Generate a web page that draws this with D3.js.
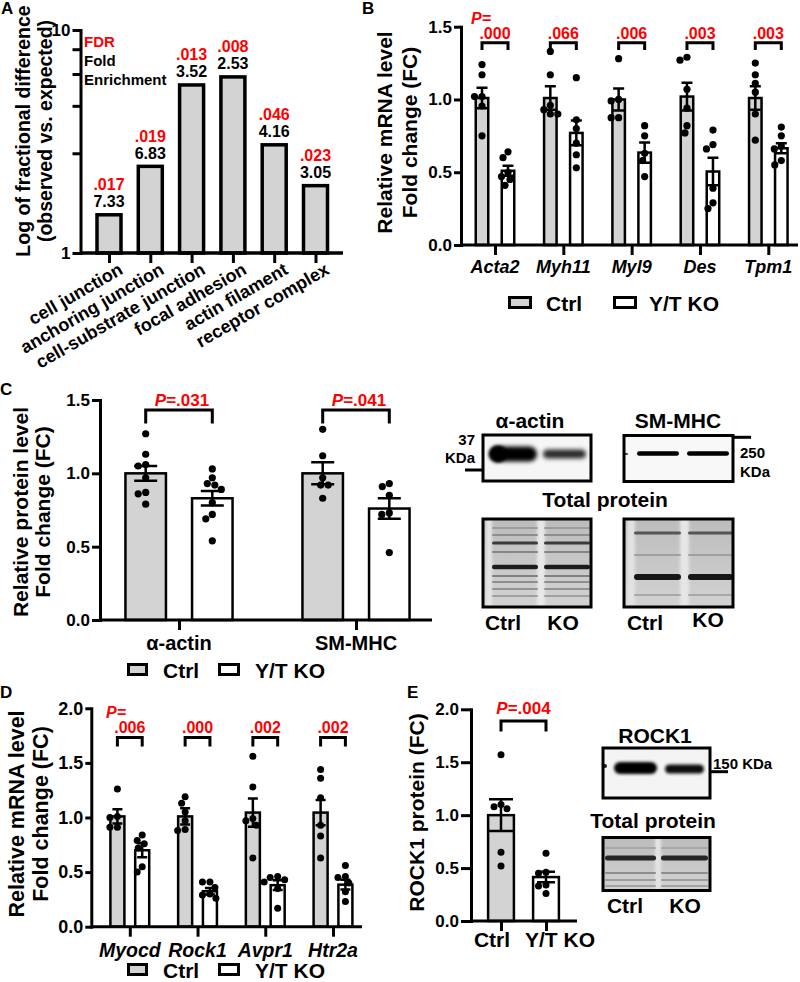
<!DOCTYPE html>
<html>
<head>
<meta charset="utf-8">
<script src="https://d3js.org/d3.v7.min.js"></script>
<style>
  body { margin: 0; background: #fff; }
  svg text { font-family: "Liberation Sans", Arial, Helvetica, sans-serif; font-weight: bold; }
</style>
</head>
<body>
<svg id="fig" width="800" height="982"></svg>
<script>
// ---------------- data ----------------
const groupNames = ["Ctrl", "Y/T KO"];

// A: GO cellular component enrichment (log axis)
const aTerms = ["cell junction", "anchoring junction", "cell-substrate junction", "focal adhesion", "actin filament", "receptor complex"];
const aValues = [1.51, 2.49, 5.77, 6.27, 3.11, 2.04];
const aFDR = [".017", ".019", ".013", ".008", ".046", ".023"];
const aFold = ["7.33", "6.83", "3.52", "2.53", "4.16", "3.05"];
const aMinorTicks = [2.8, 4.57, 6.35, 8.2];

// B: contractile gene mRNA
const bGenes = ["Acta2", "Myh11", "Myl9", "Des", "Tpm1"];
const bCtrlMean = [1.01, 1.01, 1.0, 1.02, 1.01];
const bCtrlSem = [0.07, 0.08, 0.075, 0.095, 0.08];
const bKoMean = [0.51, 0.77, 0.635, 0.505, 0.665];
const bKoSem = [0.035, 0.085, 0.07, 0.095, 0.035];
const bCtrlPts = [[1.24, 1.17, 1.02, 1.02, 0.955, 0.75], [1.33, 1.17, 0.96, 0.93, 0.9, 0.9], [1.28, 1.0, 0.99, 0.875, 0.875], [1.29, 1.27, 1.07, 0.94, 0.82, 0.77], [1.25, 1.17, 1.11, 1.05, 0.9, 0.72]];
const bKoPts = [[0.64, 0.6, 0.5, 0.47, 0.45, 0.41], [1.15, 0.86, 0.8, 0.7, 0.62, 0.53], [0.82, 0.75, 0.63, 0.58, 0.47], [0.79, 0.69, 0.66, 0.39, 0.29, 0.25], [0.81, 0.75, 0.68, 0.66, 0.58, 0.55]];
const bP = [".000", ".066", ".006", ".003", ".003"];

// C: protein level
const cProteins = ["α-actin", "SM-MHC"];
const cCtrlMean = [1.0, 1.0];
const cCtrlSem = [0.05, 0.075];
const cKoMean = [0.83, 0.76];
const cKoSem = [0.05, 0.07];
const cCtrlPts = [[1.27, 1.13, 1.06, 1.05, 0.97, 0.87, 0.86, 0.79], [1.3, 1.12, 0.97, 0.92, 0.92, 0.83]];
const cKoPts = [[1.03, 0.97, 0.93, 0.92, 0.89, 0.8, 0.72, 0.69, 0.54], [0.93, 0.91, 0.85, 0.73, 0.72, 0.46]];
const cP = [".031", ".041"];

// D: regulator mRNA
const dGenes = ["Myocd", "Rock1", "Avpr1", "Htr2a"];
const dCtrlMean = [1.01, 1.01, 1.045, 1.045];
const dCtrlSem = [0.065, 0.075, 0.13, 0.115];
const dKoMean = [0.7, 0.325, 0.38, 0.385];
const dKoSem = [0.065, 0.03, 0.045, 0.045];
const dCtrlPts = [[1.26, 1.01, 1.0, 0.91, 0.91], [1.19, 1.13, 1.05, 0.97, 0.89, 0.88], [1.56, 1.28, 0.99, 0.97, 0.93, 0.63], [1.44, 1.36, 1.18, 0.93, 0.83, 0.63]];
const dKoPts = [[0.84, 0.79, 0.76, 0.72, 0.55, 0.5], [0.41, 0.41, 0.36, 0.3, 0.29, 0.26], [0.46, 0.45, 0.43, 0.41, 0.35, 0.17], [0.56, 0.46, 0.45, 0.4, 0.32, 0.23]];
const dP = [".006", ".000", ".002", ".002"];

// E: ROCK1 protein
const eMean = [1.0, 0.415];
const eSem = [0.15, 0.05];
const ePts = [[1.57, 1.1, 1.08, 1.06, 0.65, 0.52], [0.64, 0.46, 0.45, 0.34, 0.33, 0.26]];
const eP = ".004";

// ---------------- drawing ----------------
const RED = "#ff0000";
const GRAY = "#d3d3d3";
const svg = d3.select("#fig");
const defs = svg.append("defs");

[["b1", 0.7], ["b2", 1.4], ["b3", 2.2]].forEach(([id, s]) => {
  defs.append("filter").attr("id", id)
    .attr("x", "-50%").attr("y", "-200%").attr("width", "200%").attr("height", "500%")
    .append("feGaussianBlur").attr("stdDeviation", s);
});
const grad = defs.append("linearGradient").attr("id", "tp").attr("x1", 0).attr("y1", 0).attr("x2", 0).attr("y2", 1);
grad.append("stop").attr("offset", "0%").attr("stop-color", "#bcbcbc");
grad.append("stop").attr("offset", "100%").attr("stop-color", "#d2d2d2");

function text(g, x, y, s, size, o = {}) {
  const t = g.append("text").attr("x", x).attr("y", y).attr("font-size", size).text(s);
  if (o.anchor) t.attr("text-anchor", o.anchor);
  if (o.fill) t.attr("fill", o.fill);
  if (o.italic) t.attr("font-style", "italic");
  return t;
}

function yTitle(g, xs, yc, lines, size) {
  lines.forEach((l, i) => {
    g.append("text").attr("transform", `translate(${xs[i]},${yc}) rotate(-90)`)
      .attr("text-anchor", "middle").attr("font-size", size).text(l);
  });
}

function styleAxis(sel, size) {
  sel.attr("font-size", size).attr("font-family", null);
  sel.select(".domain").attr("stroke-width", 3).attr("stroke-linecap", "square");
  sel.selectAll(".tick line").attr("stroke-width", 3);
  sel.selectAll(".tick text").attr("fill", "#000");
}

// simple deterministic beeswarm: nudge a dot sideways until it clears the others
function swarm(vals, cx, y, r) {
  const placed = [];
  return vals.map(v => {
    const py = y(v);
    let dx = 0;
    for (let k = 0; k < 60; k++) {
      const cands = k === 0 ? [0] : [-k * 0.5, k * 0.5];
      const ok = cands.find(c => placed.every(p => Math.hypot(p.x - (cx + c), p.y - py) >= 2 * r + 0.3));
      if (ok !== undefined) { dx = ok; break; }
    }
    const p = {x: cx + dx, y: py};
    placed.push(p);
    return p;
  });
}

function errBar(g, cx, y, m, s, capW) {
  g.append("path")
    .attr("d", `M${cx},${y(m - s)}V${y(m + s)}M${cx - capW / 2},${y(m + s)}H${cx + capW / 2}M${cx - capW / 2},${y(m - s)}H${cx + capW / 2}`)
    .attr("fill", "none").attr("stroke", "#000").attr("stroke-width", 2.5);
}

function dots(g, cx, y, vals, r) {
  g.append("g").selectAll("circle").data(swarm(vals, cx, y, r)).join("circle")
    .attr("cx", d => d.x).attr("cy", d => d.y).attr("r", r).attr("fill", "#000");
}

function legend(g, y, items, fs) {
  items.forEach(it => {
    g.append("rect").attr("x", it.x).attr("y", y).attr("width", it.w).attr("height", 10)
      .attr("fill", it.fill).attr("stroke", "#000").attr("stroke-width", 3);
    text(g, it.tx, y + 13, it.label, fs);
  });
}

function grouped(cfg) {
  const g = svg.append("g");
  const y = d3.scaleLinear().domain([0, cfg.yMax]).range(cfg.yRange);
  const x = d3.scalePoint().domain(cfg.cats).range(cfg.centers);
  const series = [
    {mean: cfg.ctrlMean, sem: cfg.ctrlSem, pts: cfg.ctrlPts, fill: GRAY, dx: -cfg.off},
    {mean: cfg.koMean, sem: cfg.koSem, pts: cfg.koPts, fill: "#fff", dx: cfg.off}
  ];
  series.forEach(s => {
    g.append("g").selectAll("rect").data(cfg.cats).join("rect")
      .attr("x", d => x(d) + s.dx - cfg.barW / 2).attr("width", cfg.barW)
      .attr("y", (d, i) => y(s.mean[i])).attr("height", (d, i) => y(0) - y(s.mean[i]))
      .attr("fill", s.fill).attr("stroke", "#000").attr("stroke-width", 2.5);
  });
  series.forEach(s => cfg.cats.forEach((c, i) => {
    errBar(g, x(c) + s.dx, y, s.mean[i], s.sem[i], cfg.capW);
    dots(g, x(c) + s.dx, y, s.pts[i], cfg.r);
  }));
  cfg.cats.forEach((c, i) => {
    const x1 = x(c) - cfg.off, x2 = x(c) + cfg.off;
    const yt = y(cfg.bracket[0]), ye = y(cfg.bracket[1]);
    g.append("path").attr("d", `M${x1},${ye}V${yt}H${x2}V${ye}`)
      .attr("fill", "none").attr("stroke", "#000").attr("stroke-width", 3);
    const t = g.append("text").attr("x", x(c) + (cfg.pShift || 0)).attr("y", yt - 4)
      .attr("text-anchor", "middle").attr("fill", RED).attr("font-size", cfg.pSize);
    if (cfg.pInline) {
      t.append("tspan").attr("font-style", "italic").text("P");
      t.append("tspan").text("=" + cfg.p[i]);
    } else t.text(cfg.p[i]);
  });
  const ya = g.append("g").attr("transform", `translate(${cfg.x0},0)`)
    .call(d3.axisLeft(y).tickValues(cfg.yTicks).tickFormat(d3.format(".1f"))
      .tickSize(cfg.yTickLen).tickSizeOuter(0).tickPadding(2));
  styleAxis(ya, cfg.tickFs);
  g.append("line").attr("x1", cfg.x0).attr("x2", cfg.xEnd).attr("y1", y(0)).attr("y2", y(0))
    .attr("stroke", "#000").attr("stroke-width", 3);
  const xa = g.append("g").attr("transform", `translate(0,${y(0)})`)
    .call(d3.axisBottom(x).tickSize(10).tickSizeOuter(0).tickFormat(""));
  xa.select(".domain").remove();
  xa.selectAll(".tick line").attr("stroke-width", 3);
  g.append("g").selectAll("text").data(cfg.cats).join("text")
    .attr("x", d => x(d)).attr("y", cfg.catY).attr("text-anchor", "middle")
    .attr("font-size", cfg.catFs).attr("font-style", cfg.italic ? "italic" : null).text(d => d);
  return {g, x, y};
}

// ---------- Panel A ----------
const gA = svg.append("g");
text(gA, 1, 14, "A", 17);
const aY = d3.scaleLog().domain([1, 10]).range([253, 30]);
const aX = d3.scalePoint().domain(aTerms).range([109, 315.5]);
gA.append("g").selectAll("rect").data(aTerms).join("rect")
  .attr("x", d => aX(d) - 12).attr("width", 24)
  .attr("y", (d, i) => aY(aValues[i]) + 1.7).attr("height", (d, i) => aY(1) - aY(aValues[i]) - 1.7)
  .attr("fill", GRAY).attr("stroke", "#000").attr("stroke-width", 3.5);
gA.append("g").selectAll("text").data(aTerms).join("text")
  .attr("x", d => aX(d)).attr("y", (d, i) => aY(aValues[i]) - 23).attr("text-anchor", "middle")
  .attr("font-size", 16).attr("fill", RED).text((d, i) => aFDR[i]);
gA.append("g").selectAll("text").data(aTerms).join("text")
  .attr("x", d => aX(d)).attr("y", (d, i) => aY(aValues[i]) - 6).attr("text-anchor", "middle")
  .attr("font-size", 16).text((d, i) => aFold[i]);
text(gA, 84, 47, "FDR", 15, {fill: RED});
text(gA, 84, 66, "Fold", 15);
text(gA, 84, 85, "Enrichment", 15);
const aAxis = gA.append("g").attr("transform", "translate(80.5,0)")
  .call(d3.axisLeft(aY).tickValues([1, 10]).tickFormat(d3.format("d")).tickSize(8).tickSizeOuter(0).tickPadding(2));
styleAxis(aAxis, 17);
const aMinor = gA.append("g").attr("transform", "translate(80.5,0)")
  .call(d3.axisLeft(aY).tickValues(aMinorTicks).tickFormat("").tickSize(8).tickSizeOuter(0));
aMinor.select(".domain").remove();
aMinor.selectAll(".tick line").attr("stroke-width", 3);
gA.append("line").attr("x1", 80.5).attr("x2", 343).attr("y1", aY(1)).attr("y2", aY(1))
  .attr("stroke", "#000").attr("stroke-width", 3.5);
const aXAxis = gA.append("g").attr("transform", `translate(0,${aY(1)})`)
  .call(d3.axisBottom(aX).tickSize(10).tickSizeOuter(0).tickFormat(""));
aXAxis.select(".domain").remove();
aXAxis.selectAll(".tick line").attr("stroke-width", 3);
gA.append("g").selectAll("text").data(aTerms).join("text")
  .attr("transform", d => `translate(${aX(d) + 15},273) rotate(-30)`)
  .attr("text-anchor", "end").attr("font-size", 18).text(d => d);
yTitle(gA, [30, 52], 131, ["Log of fractional difference", "(observed vs. expected)"], 19.5);

// ---------- Panel B ----------
const B = grouped({
  cats: bGenes, ctrlMean: bCtrlMean, ctrlSem: bCtrlSem, ctrlPts: bCtrlPts,
  koMean: bKoMean, koSem: bKoSem, koPts: bKoPts, p: bP,
  x0: 461, xEnd: 798, yMax: 1.5, yRange: [245, 26.7], yTicks: [0, 0.5, 1, 1.5],
  centers: [495, 768.3], off: 13, barW: 12.5, capW: 11, r: 3.6,
  bracket: [1.39, 1.34], pSize: 16, tickFs: 17, yTickLen: 7,
  catY: 273, catFs: 18, italic: true
});
text(B.g, 362, 14, "B", 17);
text(B.g, 471, 24, "P=", 16, {fill: RED, italic: true});
yTitle(B.g, [392, 417], 132.5, ["Relative mRNA level", "Fold change (FC)"], 21);
legend(B.g, 297.5, [
  {x: 509.5, w: 21, fill: GRAY, tx: 546, label: groupNames[0]},
  {x: 614.5, w: 21, fill: "#fff", tx: 649, label: groupNames[1]}
], 21);

// ---------- Panel C ----------
const C = grouped({
  cats: cProteins, ctrlMean: cCtrlMean, ctrlSem: cCtrlSem, ctrlPts: cCtrlPts,
  koMean: cKoMean, koSem: cKoSem, koPts: cKoPts, p: cP, pInline: true, pShift: 3,
  x0: 100, xEnd: 432, yMax: 1.5, yRange: [620, 400], yTicks: [0, 0.5, 1, 1.5],
  centers: [179, 356], off: 33.3, barW: 40.5, capW: 23, r: 3.6,
  bracket: [1.432, 1.34], pSize: 17, tickFs: 17, yTickLen: 8,
  catY: 650, catFs: 20, italic: false
});
text(C.g, 0, 395, "C", 17);
yTitle(C.g, [28, 50], 512, ["Relative protein level", "Fold change (FC)"], 21);
legend(C.g, 664.5, [
  {x: 128.5, w: 18, fill: GRAY, tx: 163, label: groupNames[0]},
  {x: 219.5, w: 19, fill: "#fff", tx: 255, label: groupNames[1]}
], 21);

// ---------- Panel D ----------
const D = grouped({
  cats: dGenes, ctrlMean: dCtrlMean, ctrlSem: dCtrlSem, ctrlPts: dCtrlPts,
  koMean: dKoMean, koSem: dKoSem, koPts: dKoPts, p: dP,
  x0: 91.3, xEnd: 362, yMax: 2, yRange: [926.7, 708.3], yTicks: [0, 0.5, 1, 1.5, 2],
  centers: [129.8, 333], off: 12.4, barW: 14, capW: 10, r: 3.5,
  bracket: [1.733, 1.65], pSize: 16, tickFs: 18, yTickLen: 6,
  catY: 957, catFs: 19.5, italic: true
});
text(D.g, 0, 698, "D", 17);
text(D.g, 106, 718, "P=", 16, {fill: RED, italic: true});
yTitle(D.g, [24, 48], 814, ["Relative mRNA level", "Fold change (FC)"], 21.5);
legend(D.g, 964.5, [
  {x: 128.5, w: 18, fill: GRAY, tx: 163, label: groupNames[0]},
  {x: 219.5, w: 19, fill: "#fff", tx: 255, label: groupNames[1]}
], 21);

// ---------- Panel E ----------
const gE = svg.append("g");
text(gE, 407, 698, "E", 17);
const eY = d3.scaleLinear().domain([0, 2]).range([921, 709.3]);
const eX = d3.scalePoint().domain(groupNames).range([501, 546]);
const eFill = [GRAY, "#fff"];
const eCap = [24, 18];
const eLabelDx = [-9, 14];
gE.append("g").selectAll("rect").data(groupNames).join("rect")
  .attr("x", d => eX(d) - 12.9).attr("width", 25.8)
  .attr("y", (d, i) => eY(eMean[i])).attr("height", (d, i) => eY(0) - eY(eMean[i]))
  .attr("fill", (d, i) => eFill[i]).attr("stroke", "#000").attr("stroke-width", 2.5);
groupNames.forEach((n, i) => {
  errBar(gE, eX(n), eY, eMean[i], eSem[i], eCap[i]);
  dots(gE, eX(n), eY, ePts[i], 3.5);
});
gE.append("path").attr("d", `M${eX(groupNames[0])},${eY(1.79)}V${eY(1.89)}H${eX(groupNames[1])}V${eY(1.79)}`)
  .attr("fill", "none").attr("stroke", "#000").attr("stroke-width", 3);
const eT = gE.append("text").attr("x", (eX(groupNames[0]) + eX(groupNames[1])) / 2).attr("y", eY(1.89) - 6.5)
  .attr("text-anchor", "middle").attr("fill", RED).attr("font-size", 17);
eT.append("tspan").attr("font-style", "italic").text("P");
eT.append("tspan").text("=" + eP);
const eAxis = gE.append("g").attr("transform", "translate(471,0)")
  .call(d3.axisLeft(eY).tickValues([0, 0.5, 1, 1.5, 2]).tickFormat(d3.format(".1f")).tickSize(10).tickSizeOuter(0).tickPadding(2));
styleAxis(eAxis, 17);
gE.append("line").attr("x1", 471).attr("x2", 577).attr("y1", eY(0)).attr("y2", eY(0))
  .attr("stroke", "#000").attr("stroke-width", 3);
const eXAxis = gE.append("g").attr("transform", `translate(0,${eY(0)})`)
  .call(d3.axisBottom(eX).tickSize(10).tickSizeOuter(0).tickFormat(""));
eXAxis.select(".domain").remove();
eXAxis.selectAll(".tick line").attr("stroke-width", 3);
gE.append("g").selectAll("text").data(groupNames).join("text")
  .attr("x", (d, i) => eX(d) + eLabelDx[i]).attr("y", 947).attr("text-anchor", "middle")
  .attr("font-size", 21).text(d => d);
yTitle(gE, [424], 812.5, ["ROCK1 protein (FC)"], 21);

// ---------- blot images ----------
let clipN = 0;
function blot(x, y, w, h, bg, paint) {
  const id = "clip" + (clipN++);
  defs.append("clipPath").attr("id", id).append("rect").attr("x", x).attr("y", y).attr("width", w).attr("height", h);
  const g = svg.append("g");
  const inner = g.append("g").attr("clip-path", `url(#${id})`);
  inner.append("rect").attr("x", x).attr("y", y).attr("width", w).attr("height", h).attr("fill", bg);
  paint(inner);
  g.append("rect").attr("x", x).attr("y", y).attr("width", w).attr("height", h)
    .attr("fill", "none").attr("stroke", "#000").attr("stroke-width", 3);
}
function band(g, x1, x2, cy, h, color, f) {
  g.append("rect").attr("x", x1).attr("y", cy - h / 2).attr("width", x2 - x1).attr("height", h)
    .attr("rx", h / 2).attr("fill", color).attr("filter", `url(#${f})`);
}
function stripe(g, x, w, y, h, color) {
  g.append("rect").attr("x", x).attr("y", y - 5).attr("width", w).attr("height", h + 10)
    .attr("fill", color).attr("filter", "url(#b2)");
}
function marker(x1, x2, y) {
  svg.append("line").attr("x1", x1).attr("x2", x2).attr("y1", y).attr("y2", y)
    .attr("stroke", "#000").attr("stroke-width", 3);
}
const gBlot = svg.append("g");

// C blots
text(gBlot, 530, 428, "α-actin", 21, {anchor: "middle"});
text(gBlot, 678, 428, "SM-MHC", 21, {anchor: "middle"});
blot(483, 435, 108, 46, "#f6f6f6", g => {
  band(g, 490, 537, 454, 15, "#000", "b3");
  g.append("ellipse").attr("cx", 498).attr("cy", 454).attr("rx", 9).attr("ry", 8.5).attr("fill", "#000").attr("filter", "url(#b2)");
  band(g, 543, 586, 454, 9, "#2a2a2a", "b3");
});
blot(624, 435.5, 109, 46, "#f8f8f8", g => {
  band(g, 637, 679, 453.5, 4.5, "#000", "b1");
  band(g, 687, 729, 453.5, 4.5, "#000", "b1");
  band(g, 624, 628, 454, 2, "#444", "b1");
});
text(gBlot, 475, 445, "37", 15, {anchor: "end"});
text(gBlot, 475, 463, "KDa", 15, {anchor: "end"});
marker(465, 483, 470);
text(gBlot, 740, 458, "250", 15);
text(gBlot, 740, 477, "KDa", 15);
marker(733, 751, 437.3);
text(gBlot, 605, 507, "Total protein", 21, {anchor: "middle"});
blot(483, 519, 108, 88, "url(#tp)", g => {
  stripe(g, 486, 6, 519, 88, "#e4e4e4");
  stripe(g, 537, 8, 519, 88, "#e8e8e8");
  [[528, 2, "#9c9c9c"], [535, 2, "#8e8e8e"], [543, 3, "#3a3a3a"], [552, 2, "#858585"], [567, 4.5, "#1a1a1a"],
   [576, 2, "#808080"], [582, 2, "#8e8e8e"], [589, 2, "#939393"], [596, 2, "#a0a0a0"]].forEach(([cy, h, c]) => {
    band(g, 492, 538, cy, h, c, "b1");
    band(g, 544, 590, cy, h, c, "b1");
  });
});
blot(624, 519, 109, 88, "url(#tp)", g => {
  stripe(g, 627, 8, 519, 88, "#e2e2e2");
  stripe(g, 680, 9, 519, 88, "#e6e6e6");
  [[533, 3, "#555"], [555, 2, "#a0a0a0"], [577, 6, "#141414"], [595, 2, "#a8a8a8"]].forEach(([cy, h, c]) => {
    band(g, 634, 681, cy, h, c, "b1");
    band(g, 688, 733, cy, h, c, "b1");
  });
});
text(gBlot, 503, 630, "Ctrl", 21, {anchor: "middle"});
text(gBlot, 563, 630, "KO", 21, {anchor: "middle"});
text(gBlot, 645, 630, "Ctrl", 21, {anchor: "middle"});
text(gBlot, 708, 627, "KO", 21, {anchor: "middle"});

// E blots
text(gBlot, 655, 743, "ROCK1", 21, {anchor: "middle"});
blot(603, 748, 107, 50, "#f4f4f4", g => {
  band(g, 614, 657, 768, 12, "#000", "b2");
  band(g, 665, 704, 769, 9, "#111", "b2");
  band(g, 602, 607, 766, 4, "#222", "b1");
});
text(gBlot, 713, 769, "150 KDa", 15);
marker(710, 728, 771.7);
text(gBlot, 653, 828, "Total protein", 21, {anchor: "middle"});
blot(603, 837.5, 107, 53, "url(#tp)", g => {
  stripe(g, 655, 6, 837.5, 53, "#e4e4e4");
  [[848, 2, "#a8a8a8"], [858, 5, "#262626"], [873, 2, "#8e8e8e"], [880, 2, "#9c9c9c"], [886, 2, "#a2a2a2"]].forEach(([cy, h, c]) => {
    band(g, 605, 656, cy, h, c, "b1");
    band(g, 661, 708, cy, h, c, "b1");
  });
});
text(gBlot, 625, 913, "Ctrl", 21, {anchor: "middle"});
text(gBlot, 685, 913, "KO", 21, {anchor: "middle"});
</script>
</body>
</html>
